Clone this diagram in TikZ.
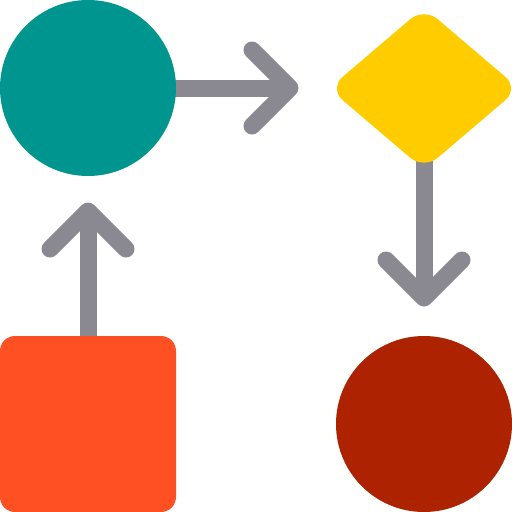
\documentclass[tikz,border=0pt]{standalone}
\usetikzlibrary{shapes.geometric,backgrounds}
\definecolor{tealc}{HTML}{00968F}
\definecolor{yellowc}{HTML}{FFCC00}
\definecolor{darkredc}{HTML}{AD2200}
\definecolor{orangec}{HTML}{FF5023}
\definecolor{grayc}{HTML}{8A8891}
\begin{document}
\begin{tikzpicture}[x=1pt,y=-1pt,
  shaft/.style={draw=grayc,line width=17pt,line cap=butt},
  chevron/.style={draw=grayc,line width=17pt,line cap=round,line join=round},
  blob/.style={draw=none,inner sep=0pt,outer sep=0pt}]
\useasboundingbox (0,0) rectangle (512,512);
\node[blob,circle,fill=tealc,minimum size=176pt] (c1) at (88,88) {};
\node[blob,diamond,fill=yellowc,minimum width=190pt,minimum height=162pt,rounded corners=18pt] (d1) at (424,88.5) {};
\node[blob,circle,fill=darkredc,minimum size=176pt] (c2) at (424,424) {};
\node[blob,rectangle,fill=orangec,minimum size=176pt,rounded corners=15pt] (sq) at (88,424) {};
\coordinate (t1) at (290,88);
\coordinate (t1a) at (252,50);
\coordinate (t1b) at (252,126);
\coordinate (t2) at (424,298);
\coordinate (t2a) at (386,260);
\coordinate (t2b) at (462,260);
\coordinate (t3) at (88,211);
\coordinate (t3a) at (50,249);
\coordinate (t3b) at (126,249);
\begin{pgfonlayer}{background}
\draw[shaft] (c1.center) -- (t1);
\draw[shaft] (d1.center) -- (t2);
\draw[shaft] (sq.center) -- (t3);
\end{pgfonlayer}
\draw[chevron] (t1a) -- (t1) -- (t1b);
\draw[chevron] (t2a) -- (t2) -- (t2b);
\draw[chevron] (t3a) -- (t3) -- (t3b);
\end{tikzpicture}
\end{document}
